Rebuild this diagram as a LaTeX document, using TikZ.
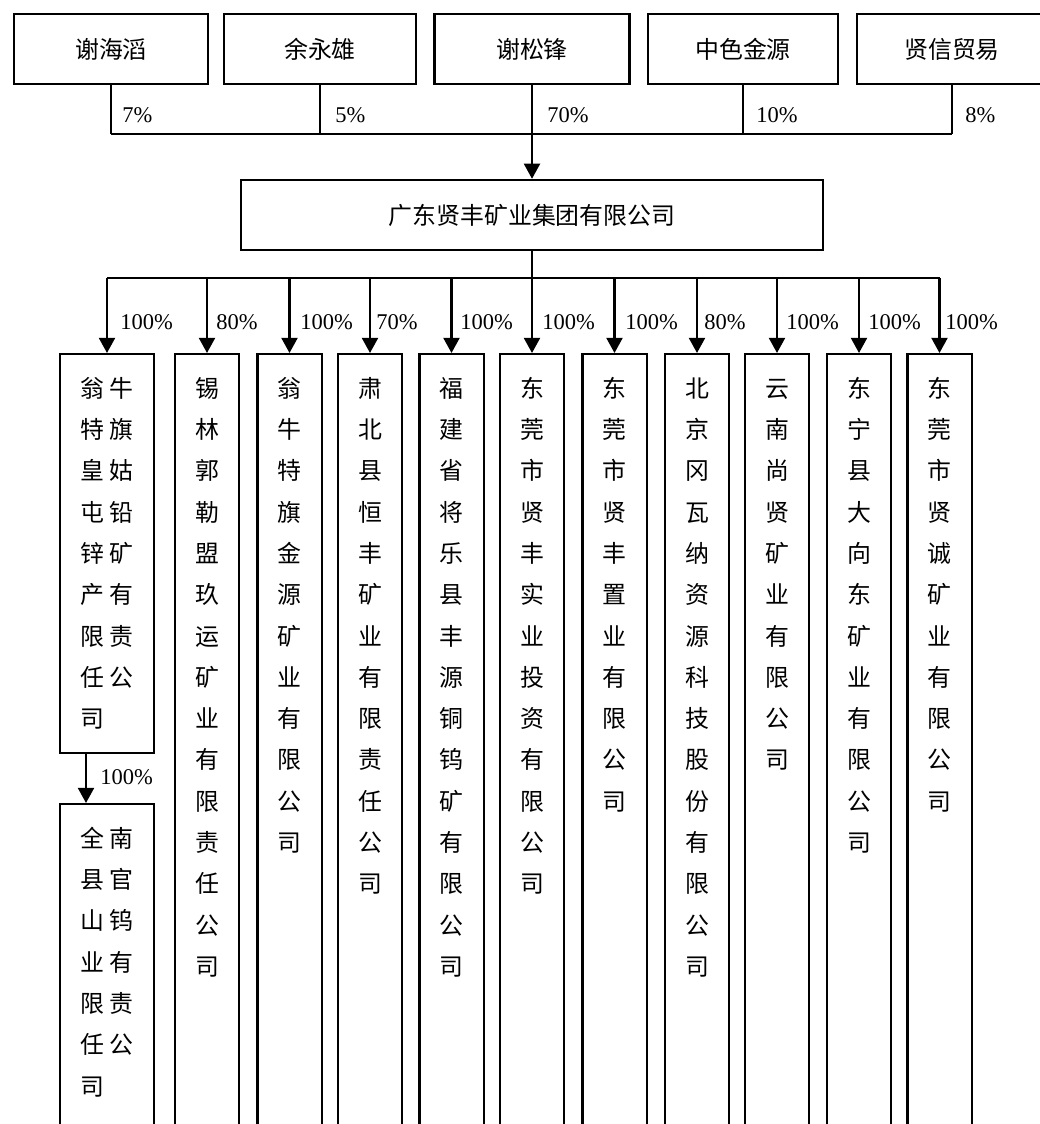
\documentclass[tikz,border=0pt]{standalone}
\usepackage{fontspec}
\setmainfont{Liberation Serif}
\newfontfamily\cjk{Noto Sans CJK SC}
\usetikzlibrary{arrows.meta,positioning}
\newcommand{\cgap}{\hspace{1.3mm}}
\tikzset{
  ln/.style={line width=0.6mm},
  ar/.style={-{Triangle[length=3.8mm,width=4mm]},line width=0.6mm},
  box/.style={draw,line width=0.6mm,minimum height=17.5mm,inner sep=0pt,font=\cjk\fontsize{17}{20}\selectfont},
  colbox/.style={draw,line width=0.6mm,anchor=north,inner sep=0pt,minimum width=16.1mm,text width=12mm,align=center,
    text height=10.7mm,text depth=186.05mm,font=\cjk\fontsize{17}{29.4}\selectfont},
  pct/.style={anchor=west,inner sep=0pt,font=\fontsize{16}{19}\selectfont}
}
\begin{document}
\begin{tikzpicture}[x=0.25mm,y=-0.25mm]
\useasboundingbox (0,0) rectangle (1040,1124);
\clip (0,0) rectangle (1040,1124);
% shareholders
\node[box,minimum width=48.5mm] (xhd) at (111,49) {谢海滔};
\node[box,minimum width=48mm] (yyx) at (320,49) {余永雄};
\node[box,minimum width=48.75mm] (xsf) at (532,49) {谢松锋};
\node[box,minimum width=47.5mm] (zsjy) at (743,49) {中色金源};
\node[box,minimum width=47.5mm] (xxmy) at (952,49) {贤信贸易};
\node[box,minimum width=145.5mm] (grp) at (532,215) {广东贤丰矿业集团有限公司};
\coordinate (j) at (532,134);
\foreach \b in {xhd,yyx,zsjy,xxmy} \draw[ln] (\b.south) -- (\b.south |- j);
\draw[ln] (xhd.south |- j) -- (xxmy.south |- j);
\draw[ar] (xsf.south) -- (grp.north);
\foreach \p/\x in {7/122,5/335,70/547,10/756,8/965} \node[pct] (s\p) at (\x,115) {\p\%};
% subsidiaries
\node[colbox,minimum width=23.5mm,text width=13.4mm,align=left,text depth=89.05mm] (c1) at (107,353)
  {翁\cgap 牛\\特\cgap 旗\\皇\cgap 姑\\屯\cgap 铅\\锌\cgap 矿\\产\cgap 有\\限\cgap 责\\任\cgap 公\\司};
\foreach \n/\x/\nm in {
  2/207/{锡\\林\\郭\\勒\\盟\\玖\\运\\矿\\业\\有\\限\\责\\任\\公\\司},
  3/289.5/{翁\\牛\\特\\旗\\金\\源\\矿\\业\\有\\限\\公\\司},
  4/370/{肃\\北\\县\\恒\\丰\\矿\\业\\有\\限\\责\\任\\公\\司},
  5/451.5/{福\\建\\省\\将\\乐\\县\\丰\\源\\铜\\钨\\矿\\有\\限\\公\\司},
  6/532/{东\\莞\\市\\贤\\丰\\实\\业\\投\\资\\有\\限\\公\\司},
  7/614.5/{东\\莞\\市\\贤\\丰\\置\\业\\有\\限\\公\\司},
  8/697/{北\\京\\冈\\瓦\\纳\\资\\源\\科\\技\\股\\份\\有\\限\\公\\司},
  9/777/{云\\南\\尚\\贤\\矿\\业\\有\\限\\公\\司},
  10/859/{东\\宁\\县\\大\\向\\东\\矿\\业\\有\\限\\公\\司},
  11/939.5/{东\\莞\\市\\贤\\诚\\矿\\业\\有\\限\\公\\司}}
  \node[colbox] (c\n) at (\x,353) {\nm};
\coordinate (k) at (532,278);
\draw[ln] (grp.south) -- (k);
\draw[ln] (c1.north |- k) -- (c11.north |- k);
\foreach \n in {1,...,11} \draw[ar] (c\n.north |- k) -- (c\n.north);
\foreach \n/\p/\x in {1/100/120,2/80/216,3/100/300,4/70/376,5/100/460,6/100/542,7/100/625,8/80/704,9/100/786,10/100/868,11/100/945}
  \node[pct] (q\n) at (\x,322) {\p\%};
% second level
\node[colbox,minimum width=23.5mm,text width=13.4mm,align=left,text depth=73.55mm] (qn) at (107,803)
  {全\cgap 南\\县\cgap 官\\山\cgap 钨\\业\cgap 有\\限\cgap 责\\任\cgap 公\\司};
\draw[ar] (c1.south -| 86,0) -- (qn.north -| 86,0);
\node[pct] (q12) at (100,777) {100\%};
\end{tikzpicture}
\end{document}
